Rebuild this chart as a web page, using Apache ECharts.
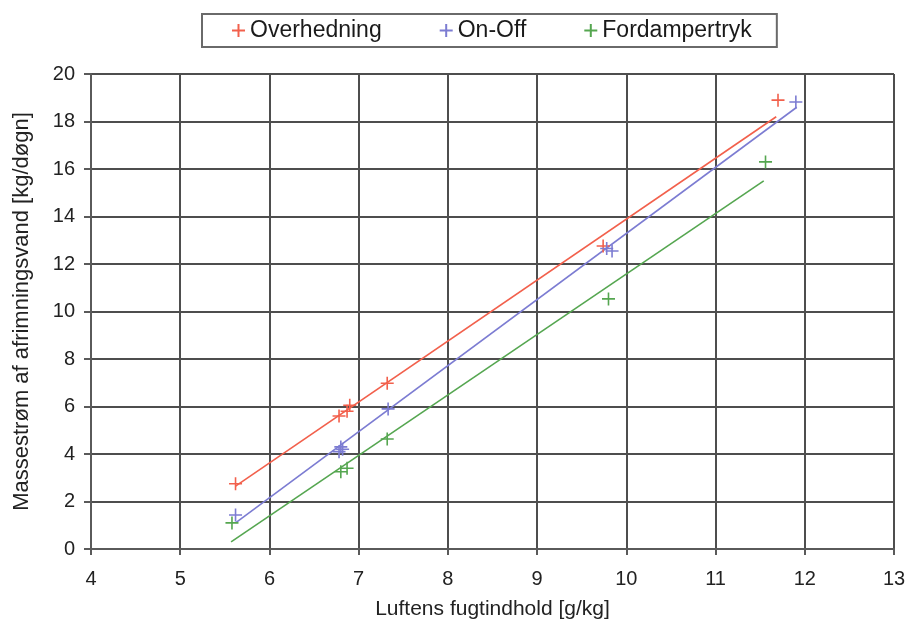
<!DOCTYPE html>
<html><head><meta charset="utf-8">
<script src="https://cdn.jsdelivr.net/npm/echarts@6/dist/echarts.min.js"></script>
<style>html,body{margin:0;padding:0;background:#fff}#c{width:911px;height:626px}</style>
</head><body><div id="c"></div>
<script>
const seriesNames = ['Overhedning', 'On-Off', 'Fordampertryk'];
const xTicks = [4, 5, 6, 7, 8, 9, 10, 11, 12, 13];
const yTicks = [0, 2, 4, 6, 8, 10, 12, 14, 16, 18, 20];
const overhedning = [[5.62, 2.75], [6.78, 5.6], [6.87, 5.8], [6.9, 6.05], [7.32, 6.98], [9.74, 12.76], [11.7, 18.9]];
const onOff = [[5.62, 1.43], [6.78, 4.1], [6.8, 4.3], [6.82, 4.2], [7.33, 5.9], [9.78, 12.65], [9.84, 12.55], [11.9, 18.82]];
const fordampertryk = [[5.58, 1.1], [6.8, 3.25], [6.87, 3.4], [7.32, 4.63], [9.8, 10.53], [11.56, 16.3]];
const trendOverhedning = [[5.62, 2.65], [11.68, 18.2]];
const trendOnOff = [[5.62, 1.1], [11.91, 18.6]];
const trendFordampertryk = [[5.57, 0.3], [11.54, 15.5]];

const colors = ['#f2604c', '#7c7cd2', '#55a650'];
const plus = 'path://M0,5L10,5M5,0L5,10';
const font = 'Liberation Sans';

function scat(name, data, color) {
  return { name, type: 'scatter', data, symbol: plus, symbolSize: 13,
    itemStyle: { color: 'rgba(0,0,0,0)', borderColor: color, borderWidth: 1.6, opacity: 1 },
    z: 5 };
}
function trend(data, color) {
  return { type: 'line', data, symbol: 'none', silent: true,
    lineStyle: { color, width: 1.6 }, z: 4 };
}
const chart = echarts.init(document.getElementById('c'), null, { renderer: 'canvas' });
chart.setOption({
  animation: false,
  backgroundColor: '#fff',
  textStyle: { fontFamily: font },
  grid: { left: 91, top: 74, width: 803, height: 475 },
  legend: {
    data: seriesNames, left: 202, top: 14,
    itemGap: 57, itemWidth: 13, itemHeight: 13, padding: [5, 25, 5, 29],
    borderColor: '#6a6a6a', borderWidth: 2, icon: plus,
    textStyle: { fontFamily: font, fontSize: 23, color: '#1a1a1a' }
  },
  xAxis: {
    type: 'value', min: xTicks[0], max: xTicks[xTicks.length - 1], interval: 1,
    name: 'Luftens fugtindhold [g/kg]', nameLocation: 'middle', nameGap: 50,
    nameTextStyle: { fontSize: 21, color: '#222', fontFamily: font },
    axisLine: { show: true, lineStyle: { color: '#5a5a5a', width: 2 } },
    axisTick: { show: true, length: 6, lineStyle: { color: '#5a5a5a', width: 2 } },
    axisLabel: { fontSize: 20, color: '#222', margin: 20, fontFamily: font },
    splitLine: { show: true, lineStyle: { color: '#4e4e4e', width: 2 } }
  },
  yAxis: {
    type: 'value', min: yTicks[0], max: yTicks[yTicks.length - 1], interval: 2,
    name: 'Massestrøm af afrimningsvand [kg/døgn]', nameLocation: 'middle', nameGap: 58,
    nameRotate: 90,
    nameTextStyle: { fontSize: 22, color: '#222', fontFamily: font },
    axisLine: { show: true, lineStyle: { color: '#5a5a5a', width: 2 } },
    axisTick: { show: true, length: 7, lineStyle: { color: '#5a5a5a', width: 2 } },
    axisLabel: { fontSize: 20, color: '#222', margin: 16, fontFamily: font },
    splitLine: { show: true, lineStyle: { color: '#4e4e4e', width: 2 } }
  },
  series: [
    scat(seriesNames[0], overhedning, colors[0]),
    scat(seriesNames[1], onOff, colors[1]),
    scat(seriesNames[2], fordampertryk, colors[2]),
    trend(trendOverhedning, colors[0]),
    trend(trendOnOff, colors[1]),
    trend(trendFordampertryk, colors[2])
  ]
});
</script></body></html>
